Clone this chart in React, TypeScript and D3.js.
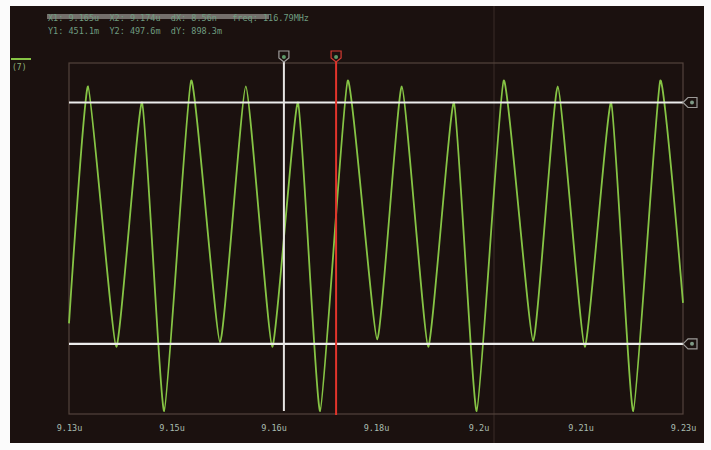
import React, { useEffect, useRef } from "react";
import * as d3 from "d3";

// waveform extrema (time in us, level in V)
const sampleTimes = [
  9.13, 9.1331, 9.1377, 9.1419, 9.1455, 9.1499, 9.1546, 9.1588, 9.1631, 9.1673,
  9.1709, 9.1754, 9.1802, 9.1842, 9.1885, 9.1927, 9.1964, 9.2008, 9.2056, 9.2096,
  9.214, 9.2183, 9.2219, 9.2263, 9.23,
];
const sampleValues = [
  -0.58, 1.04, -0.74, 0.93, -1.18, 1.08, -0.71, 1.04, -0.74, 0.93,
  -1.18, 1.08, -0.69, 1.04, -0.74, 0.93, -1.18, 1.08, -0.7, 1.04,
  -0.74, 0.93, -1.18, 1.08, -0.44,
];

const tickValues = [9.13, 9.1467, 9.1633, 9.18, 9.1967, 9.2133, 9.23];
const tickLabels = ["9.13u", "9.15u", "9.16u", "9.18u", "9.2u", "9.21u", "9.23u"];

const timeCursors = [9.165, 9.1735];
const levelCursors = [0.93, -0.72];

const readoutLines = [
  "X1: 9.165u  X2: 9.174u  dX: 8.56n   freq: 116.79MHz",
  "Y1: 451.1m  Y2: 497.6m  dY: 898.3m",
];

const App = () => {
  const ref = useRef<SVGSVGElement | null>(null);

  useEffect(() => {
    document.body.style.margin = "0";
    const width = 711;
    const height = 450;
    const marginTop = 63;
    const marginRight = 28;
    const marginBottom = 36;
    const marginLeft = 69;

    const svg = d3.select(ref.current).attr("width", width).attr("height", height);
    svg.selectAll("*").remove();

    const x = d3
      .scaleLinear()
      .domain([9.13, 9.23])
      .range([marginLeft, width - marginRight]);

    const y = d3
      .scaleLinear()
      .domain([-1.2, 1.2])
      .range([height - marginBottom, marginTop]);

    // paper + screen
    svg.append("rect").attr("width", width).attr("height", height).attr("fill", "#fbfbfb");
    svg
      .append("rect")
      .attr("x", 10)
      .attr("y", 6)
      .attr("width", 694)
      .attr("height", 437)
      .attr("fill", "#1b110f");

    // crease in the photo
    svg
      .append("line")
      .attr("x1", 494)
      .attr("x2", 494)
      .attr("y1", 6)
      .attr("y2", 443)
      .attr("stroke", "#3b2c28")
      .attr("stroke-width", 1);

    // plot frame
    svg
      .append("rect")
      .attr("x", marginLeft)
      .attr("y", marginTop)
      .attr("width", width - marginLeft - marginRight)
      .attr("height", height - marginTop - marginBottom)
      .attr("fill", "none")
      .attr("stroke", "#54443d")
      .attr("stroke-width", 1.2);

    // x axis labels
    svg
      .append("g")
      .attr("transform", `translate(0,${height - marginBottom + 11})`)
      .call(
        d3
          .axisBottom(x)
          .tickValues(tickValues)
          .tickFormat((_, i) => tickLabels[i])
          .tickSize(0)
      )
      .call((g) => g.select(".domain").remove())
      .call((g) =>
        g
          .selectAll("text")
          .attr("fill", "#a9bdb0")
          .attr("font-family", "DejaVu Sans Mono")
          .attr("font-size", "8.5px")
          .attr("dy", "0.3em")
      );

    // waveform
    const line = d3
      .line<number>()
      .x((_, i) => x(sampleTimes[i]))
      .y((d) => y(d))
      .curve(d3.curveCardinal.tension(0.55));

    svg
      .append("path")
      .datum(sampleValues)
      .attr("d", line)
      .attr("fill", "none")
      .attr("stroke", "#86c445")
      .attr("stroke-width", 1.8);

    // level cursors
    levelCursors.forEach((v) => {
      svg
        .append("line")
        .attr("x1", marginLeft)
        .attr("x2", width - marginRight)
        .attr("y1", y(v))
        .attr("y2", y(v))
        .attr("stroke", "#ececec")
        .attr("stroke-width", 2.2);
      const yy = y(v);
      const xr = width - marginRight;
      svg
        .append("path")
        .attr("d", `M${xr},${yy} L${xr + 5},${yy - 5} H${xr + 14} V${yy + 5} H${xr + 5} Z`)
        .attr("fill", "#1b110f")
        .attr("stroke", "#9c9a98")
        .attr("stroke-width", 1.2);
      svg
        .append("circle")
        .attr("cx", xr + 9)
        .attr("cy", yy)
        .attr("r", 2)
        .attr("fill", "#7e9a86");
    });

    // time cursors
    const cursorColors = ["#e6e4e2", "#e2342b"];
    const markerColors = ["#9c9a98", "#d43a32"];
    timeCursors.forEach((t, i) => {
      const xx = x(t);
      svg
        .append("line")
        .attr("x1", xx)
        .attr("x2", xx)
        .attr("y1", 61)
        .attr("y2", height - marginBottom + (i === 1 ? 1 : -3))
        .attr("stroke", cursorColors[i])
        .attr("stroke-width", 2);
      svg
        .append("path")
        .attr("d", `M${xx - 5},51 H${xx + 5} V58 L${xx},62 L${xx - 5},58 Z`)
        .attr("fill", "#1b110f")
        .attr("stroke", markerColors[i])
        .attr("stroke-width", 1.2);
      svg
        .append("circle")
        .attr("cx", xx)
        .attr("cy", 57)
        .attr("r", 2)
        .attr("fill", "#5f9a6a");
    });

    // channel badge
    svg
      .append("line")
      .attr("x1", 11)
      .attr("x2", 31)
      .attr("y1", 59)
      .attr("y2", 59)
      .attr("stroke", "#86c445")
      .attr("stroke-width", 2);
    svg
      .append("text")
      .attr("x", 12)
      .attr("y", 70)
      .attr("fill", "#8fb47a")
      .attr("font-family", "DejaVu Sans Mono")
      .attr("font-size", "8px")
      .text("(7)");

    // readout text
    svg
      .append("rect")
      .attr("x", 47)
      .attr("y", 14)
      .attr("width", 222)
      .attr("height", 5)
      .attr("fill", "#bdbdb8")
      .attr("opacity", 0.55);
    readoutLines.forEach((s, i) => {
      svg
        .append("text")
        .attr("x", 48)
        .attr("y", 21 + i * 13)
        .attr("fill", "#6f9c80")
        .attr("font-family", "DejaVu Sans Mono")
        .attr("font-size", "8.5px")
        .attr("xml:space", "preserve")
        .text(s);
    });
  }, []);

  return <svg ref={ref} style={{ display: "block" }}></svg>;
};

export default App;
